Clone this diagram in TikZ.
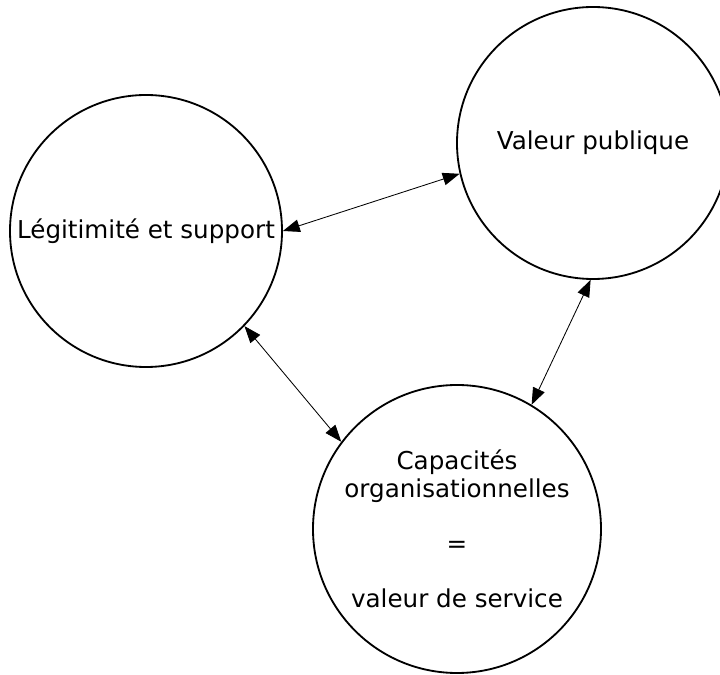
\documentclass[tikz,border=0pt]{standalone}
\usepackage{fontspec}
\setmainfont{DejaVu Sans}
\usetikzlibrary{arrows.meta,positioning}

\begin{document}
\begin{tikzpicture}[
  font=\fontsize{17.5}{19.6}\selectfont,
  >={Triangle[length=12pt,width=9pt]},
  pole/.style={draw=black, line width=1.3pt, circle, fill=white,
               inner sep=0pt, align=center},
  link/.style={<->, line width=0.6pt, black},
]
\useasboundingbox (0,0) rectangle (18,16.875);

%% ── Circles ──────────────────────────────────────────────────────────────────
\node[pole, minimum size=6.8cm] (legit) at (3.65,11.1)   {Légitimité et support};
\node[pole, minimum size=6.8cm] (value) at (14.825,13.3) {Valeur publique};
\node[pole, minimum size=7.2cm] (capa)  at (11.425,3.65)
  {Capacités\\organisationnelles\\[19.6pt]=\\[19.6pt]valeur de service};

%% ── Links ────────────────────────────────────────────────────────────────────
\draw[link] (legit.0)   -- (value.193);
\draw[link] (legit.-44) -- (capa.143);
\draw[link] (value.269) -- (capa.59);

\end{tikzpicture}
\end{document}
